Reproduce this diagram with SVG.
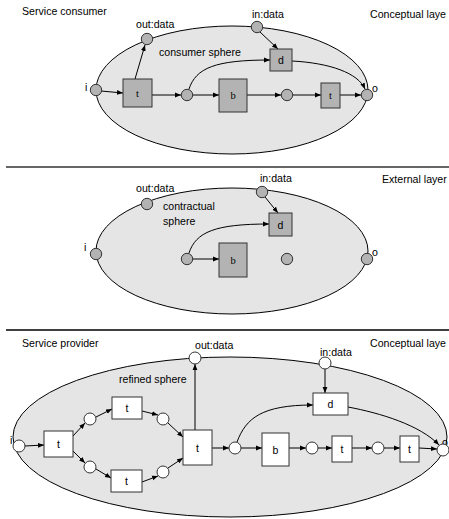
<svg xmlns="http://www.w3.org/2000/svg" width="449" height="519" viewBox="0 0 449 519">
<defs>
<marker id="ah" viewBox="0 0 10 10" refX="10" refY="5" markerWidth="6" markerHeight="6" orient="auto" markerUnits="userSpaceOnUse">
<path d="M0,1 L10,5 L0,9 z" fill="#000"/>
</marker>
<style>
.lbl{font-family:"Liberation Sans",Arial,sans-serif;font-size:10.6px;fill:#000}
.nl{font-family:"Liberation Sans",Arial,sans-serif;font-size:10.5px;fill:#000;text-anchor:middle;dominant-baseline:central}
.sl{font-family:"Liberation Serif","Times New Roman",serif;font-size:10.5px;fill:#000;text-anchor:middle;dominant-baseline:central}
.sph{fill:#e5e5e5;stroke:#000;stroke-width:1}
.g{fill:#b3b3b3;stroke:#333;stroke-width:1}
.w{fill:#fff;stroke:#333;stroke-width:1}
.c{fill:none;stroke:#000;stroke-width:1;marker-end:url(#ah)}
.sep{stroke:#333;stroke-width:1.5}
</style>
</defs>
<rect width="449" height="519" fill="#fff"/>

<!-- ===== Section 1 ===== -->
<g id="sec1">
<text class="lbl" x="22" y="15">Service consumer</text>
<text class="lbl" x="370" y="18">Conceptual laye</text>
<ellipse id="consumer-sphere" class="sph" cx="232" cy="90" rx="136" ry="64"/>
<text class="lbl" x="159" y="56">consumer sphere</text>
</g>
<g id="connectors1">
<path class="c" d="M101,91 L123,93"/>
<path class="c" d="M135,79 L145,45"/>
<path class="c" d="M152,95 L181,95"/>
<path class="c" d="M193,95 L219,95"/>
<path class="c" d="M247,95 L281,95"/>
<path class="c" d="M293,95 L321,95"/>
<path class="c" d="M340,95 L361,95"/>
<path class="c" d="M189,89 C196,68 215,60 270,60"/>
<path class="c" d="M260,32 L278,49"/>
<path class="c" d="M292,61 C330,63 358,73 365,89"/>
</g>
<g id="s1-i"><circle class="g" cx="96" cy="90" r="5.7"/><text class="lbl" x="85" y="91">i</text></g>
<g id="s1-out"><circle class="g" cx="147" cy="39" r="5.7"/><text class="lbl" x="136" y="28">out:data</text></g>
<g id="s1-in"><circle class="g" cx="257" cy="27" r="5.7"/><text class="lbl" x="252" y="18">in:data</text></g>
<g id="s1-t1"><rect class="g" x="123" y="79" width="29" height="28"/><text class="sl" x="137.5" y="93">t</text></g>
<g id="s1-p1"><circle class="g" cx="187" cy="95" r="5.7"/></g>
<g id="s1-b"><rect class="g" x="219" y="79" width="28" height="33"/><text class="sl" x="233" y="95.5">b</text></g>
<g id="s1-p2"><circle class="g" cx="287" cy="95" r="5.7"/></g>
<g id="s1-t2"><rect class="g" x="321" y="83" width="19" height="25"/><text class="sl" x="330.5" y="95.5">t</text></g>
<g id="s1-o"><circle class="g" cx="367" cy="95" r="5.7"/><text class="lbl" x="372" y="92">o</text></g>
<g id="s1-d"><rect class="g" x="270" y="49" width="22" height="22"/><text class="nl" x="281" y="60">d</text></g>

<line class="sep" x1="6" y1="167" x2="449" y2="167"/>

<!-- ===== Section 2 ===== -->
<g id="sec2">
<text class="lbl" x="382" y="183">External layer</text>
<ellipse id="contractual-sphere" class="sph" cx="232" cy="251" rx="136" ry="63"/>
<text class="lbl" x="163" y="210">contractual</text>
<text class="lbl" x="163" y="225">sphere</text>
</g>
<g id="connectors2">
<path class="c" d="M193,259 L219,259"/>
<path class="c" d="M265,197 L278,213"/>
<path class="c" d="M189,253 C196,232 215,224 269,224"/>
</g>
<g id="s2-i"><circle class="g" cx="96" cy="254" r="5.7"/><text class="lbl" x="84" y="251">i</text></g>
<g id="s2-out"><circle class="g" cx="147" cy="204" r="5.7"/><text class="lbl" x="136" y="192">out:data</text></g>
<g id="s2-in"><circle class="g" cx="262" cy="192" r="5.7"/><text class="lbl" x="260" y="182">in:data</text></g>
<g id="s2-p1"><circle class="g" cx="187" cy="259" r="5.7"/></g>
<g id="s2-b"><rect class="g" x="219" y="243" width="28" height="34"/><text class="sl" x="233" y="260">b</text></g>
<g id="s2-p2"><circle class="g" cx="287" cy="259" r="5.7"/></g>
<g id="s2-o"><circle class="g" cx="367" cy="259" r="5.7"/><text class="lbl" x="372" y="256">o</text></g>
<g id="s2-d"><rect class="g" x="269" y="213" width="23" height="23"/><text class="nl" x="280.5" y="224.5">d</text></g>

<line class="sep" x1="6" y1="330" x2="449" y2="330" style="stroke:#000"/>

<!-- ===== Section 3 ===== -->
<g id="sec3">
<text class="lbl" x="22" y="347">Service provider</text>
<text class="lbl" x="370" y="347">Conceptual laye</text>
<ellipse id="refined-sphere" class="sph" cx="230" cy="437" rx="217" ry="80"/>
<text class="lbl" x="119" y="383">refined sphere</text>
</g>
<g id="connectors3">
<path class="c" d="M25,446 L44,445"/>
<path class="c" d="M73,436 L85,423"/>
<path class="c" d="M73,451 L85,463"/>
<path class="c" d="M96,417 L112,409"/>
<path class="c" d="M96,469 L111,478"/>
<path class="c" d="M142,411 L158,415"/>
<path class="c" d="M142,482 L158,476"/>
<path class="c" d="M168,423 L183,437"/>
<path class="c" d="M168,468 L183,458"/>
<path class="c" d="M195,430 L195,364"/>
<path class="c" d="M212,448 L229,448"/>
<path class="c" d="M241,448 L262,448"/>
<path class="c" d="M289,448 L306,448"/>
<path class="c" d="M318,448 L332,448"/>
<path class="c" d="M352,448 L372,448"/>
<path class="c" d="M384,448 L400,448"/>
<path class="c" d="M419,448 L437,449"/>
<path class="c" d="M237,442 C246,418 262,405 313,405"/>
<path class="c" d="M325,369 L325,393"/>
<path class="c" d="M348,407 C380,413 420,425 439,445"/>
</g>
<g id="s3-i"><text class="lbl" x="10" y="444">i</text><circle class="w" cx="19" cy="446" r="6"/></g>
<g id="s3-t1"><rect class="w" x="44" y="431" width="29" height="26"/><text class="nl" x="58.5" y="444">t</text></g>
<g id="s3-pu1"><circle class="w" cx="90" cy="419" r="6"/></g>
<g id="s3-pl1"><circle class="w" cx="90" cy="467" r="6"/></g>
<g id="s3-tu"><rect class="w" x="112" y="397" width="30" height="22"/><text class="nl" x="127" y="408">t</text></g>
<g id="s3-tl"><rect class="w" x="111" y="470" width="31" height="22"/><text class="nl" x="126.5" y="481">t</text></g>
<g id="s3-pu2"><circle class="w" cx="163" cy="419" r="6"/></g>
<g id="s3-pl2"><circle class="w" cx="163" cy="472" r="6"/></g>
<g id="s3-t2"><rect class="w" x="183" y="430" width="29" height="35"/><text class="nl" x="197.5" y="447.5">t</text></g>
<g id="s3-out"><circle class="w" cx="195" cy="358" r="6"/><text class="lbl" x="195" y="349">out:data</text></g>
<g id="s3-in"><circle class="w" cx="325" cy="363" r="6"/><text class="lbl" x="320" y="356">in:data</text></g>
<g id="s3-p1"><circle class="w" cx="235" cy="448" r="6"/></g>
<g id="s3-b"><rect class="w" x="262" y="433" width="27" height="33"/><text class="nl" x="275.5" y="449.5">b</text></g>
<g id="s3-p2"><circle class="w" cx="312" cy="448" r="6"/></g>
<g id="s3-t3"><rect class="w" x="332" y="436" width="20" height="26"/><text class="nl" x="342" y="449">t</text></g>
<g id="s3-p3"><circle class="w" cx="378" cy="448" r="6"/></g>
<g id="s3-t4"><rect class="w" x="400" y="436" width="19" height="26"/><text class="nl" x="409.5" y="449">t</text></g>
<g id="s3-d"><rect class="w" x="313" y="393" width="35" height="22"/><text class="nl" x="330.5" y="404">d</text></g>
<g id="s3-o"><text class="lbl" x="442" y="446">o</text><circle class="w" cx="443" cy="450" r="6"/></g>
</svg>
